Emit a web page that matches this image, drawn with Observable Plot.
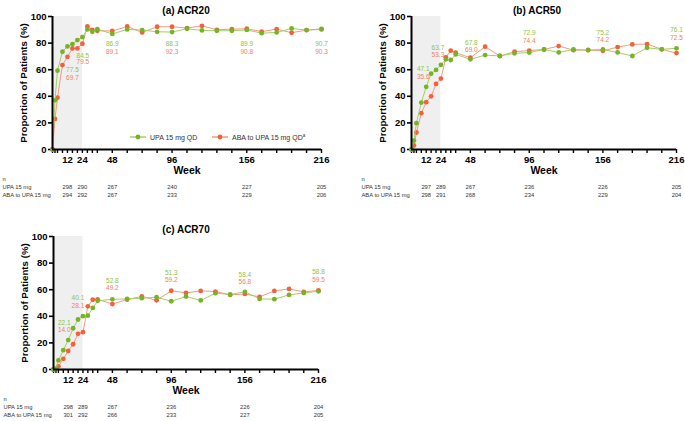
<!DOCTYPE html>
<html><head><meta charset="utf-8">
<script src="https://cdn.jsdelivr.net/npm/d3@7"></script>
<script src="https://cdn.jsdelivr.net/npm/@observablehq/plot@0.6"></script>
<style>
body{margin:0;background:#fff;font-family:Arial,"Liberation Sans",sans-serif;}
#wrap{position:relative;width:685px;height:421px;overflow:hidden;background:#fff;}
.panel{position:absolute;}
.legend{position:absolute;font-size:7px;color:#333;display:flex;align-items:center;white-space:nowrap;}
</style></head><body><div id="wrap"></div>
<script>
// ---- data ----
const weeks = [0,2,4,8,12,16,20,24,28,32,36,48,60,72,84,96,108,120,132,144,156,168,180,192,204,216];
const tickLabelWeeks = [12,24,48,96,156,216];
const shadeWeeks = [0,24];
const yTicks = [0,20,40,60,80,100];
const seriesNames = ["UPA 15 mg QD","ABA to UPA 15 mg QD"];
const rowLabels = ["n","UPA 15 mg","ABA to UPA 15 mg"];
const titles = ["(a) ACR20","(b) ACR50","(c) ACR70"];

const acr20Upa = [0,37,59.3,73.5,77.5,79.3,82.3,84.5,90.3,88.5,90.5,86.9,90.3,89.8,88.5,88.3,90.8,89.5,89.3,89.3,89.9,87.5,88.0,91.0,89.8,90.7];
const acr20Aba = [0,23,39,63.5,69.7,76,76,79.5,92.5,90,89.3,89.1,92.5,88,92.3,92.3,91.3,93,90,90.5,90.8,88.7,90.5,87.8,89.8,90.3];
const acr50Upa = [0,6.7,19.8,35.3,47.1,57,59.8,63.7,67.8,67.3,71.5,67.8,71,70.3,72.3,72.9,75.2,73,75.2,74.8,75.2,73,70.3,76.5,75.3,76.1];
const acr50Aba = [0,3,12.8,27.3,35.6,40,49.3,53.3,69.3,74.3,72.8,69.0,77.3,70.3,73.5,74.4,75.2,77.8,74.7,74.7,74.2,77,79,79.3,75.3,72.5];
const acr70Upa = [0,0.7,6.8,14.5,22.1,31,37.6,40.1,40.5,46.3,51.6,52.8,53,53.6,54.4,51.3,54.9,51.9,57.4,56.4,58.4,53.1,52.9,56.1,57.6,58.8];
const acr70Aba = [0,0.3,2.4,8,14.0,19,26.8,28.1,47.5,52.5,52.8,49.2,52.6,54.9,52,59.2,57.6,59.1,58.6,56.1,56.8,54.6,59.1,60.6,58.3,59.5];

const nWeeks = [12,24,48,96,156,216];
const acr20nUpa = [298,290,267,240,227,205];
const acr20nAba = [294,292,267,233,229,206];
const acr50nUpa = [297,289,267,236,226,205];
const acr50nAba = [298,291,268,234,229,204];
const acr70nUpa = [298,289,267,236,226,204];
const acr70nAba = [301,292,266,233,227,205];

// ---- style ----
const GREEN = "#74b425", GREEN_LINE = "#a3d064", GREEN_TXT = "#8cc443";
const ORANGE = "#f2603c", ORANGE_LINE = "#f59a82", ORANGE_TXT = "#f08063";
const FONT = "Arial, 'Liberation Sans', sans-serif";

function panel(cfg) {
  const {title, upa, aba, nUpa, nAba, width, marginLeft, marginRight, labelG, labelO, labelDx, titleDx, titleDy} = cfg;
  const H = 202, MT = 16, MB = 53;
  const rows = (arr) => weeks.map((w, i) => ({week: w, value: arr[i]}));
  const dU = rows(upa), dA = rows(aba);
  const labelMarks = [];
  tickLabelWeeks.forEach((w, i) => {
    const k = weeks.indexOf(w);
    labelMarks.push(Plot.text([{week: w, y: labelG[i], v: upa[k]}], {x: "week", y: "y", text: d => d.v.toFixed(1), dx: labelDx[i], fill: GREEN_TXT, fontSize: 6.5, fontWeight: "normal"}));
    labelMarks.push(Plot.text([{week: w, y: labelO[i], v: aba[k]}], {x: "week", y: "y", text: d => d.v.toFixed(1), dx: labelDx[i], fill: ORANGE_TXT, fontSize: 6.5, fontWeight: "normal"}));
  });
  const nU = nWeeks.map((w, i) => ({week: w, n: nUpa[i]}));
  const nA = nWeeks.map((w, i) => ({week: w, n: nAba[i]}));
  return Plot.plot({
    width, height: H, marginTop: MT, marginBottom: MB, marginLeft, marginRight,
    x: {domain: [0, 216]},
    y: {domain: [0, 100]},
    style: {fontFamily: FONT, fontSize: "9.5px", fontWeight: "bold", color: "#000", background: "transparent", overflow: "visible"},
    marks: [
      Plot.rectY([shadeWeeks], {x1: d => d[0], x2: d => d[1], y1: 0, y2: 100, fill: "#efefef"}),
      Plot.axisY({ticks: yTicks, tickSize: 4, tickPadding: 2, strokeWidth: 1.6, label: null, fontSize: 9.5}),
      Plot.axisX({ticks: weeks, tickSize: 4, tickPadding: 3, strokeWidth: 1.4, label: null, tickFormat: d => tickLabelWeeks.includes(d) ? String(d) : "", fontSize: 9.5}),
      Plot.line(dA, {x: "week", y: "value", stroke: ORANGE_LINE, strokeWidth: 1}),
      Plot.dot(dA, {x: "week", y: "value", fill: ORANGE, r: 2.4}),
      Plot.line(dU, {x: "week", y: "value", stroke: GREEN_LINE, strokeWidth: 1}),
      Plot.dot(dU, {x: "week", y: "value", fill: GREEN, r: 2.4}),
      Plot.ruleY([0], {stroke: "#000", strokeWidth: 2}),
      Plot.ruleX([0], {stroke: "#000", strokeWidth: 2}),
      ...labelMarks,
      Plot.text([title], {text: d => d, frameAnchor: "top", dy: titleDy, dx: titleDx, fontSize: 10, fontWeight: "bold"}),
      Plot.text(["Proportion of Patients (%)"], {text: d => d, frameAnchor: "left", textAnchor: "middle", dx: -29, rotate: -90, fontSize: 9.7, fontWeight: "bold"}),
      Plot.text(["Week"], {text: d => d, frameAnchor: "bottom", dy: 24, fontSize: 10.5, fontWeight: "bold"}),
      Plot.text([rowLabels[0]], {text: d => d, frameAnchor: "bottom-left", dx: -50, dy: 31, textAnchor: "start", fontSize: 5.8, fontWeight: "normal", fill: "#333"}),
      Plot.text([rowLabels[1]], {text: d => d, frameAnchor: "bottom-left", dx: -50, dy: 39, textAnchor: "start", fontSize: 5.8, fontWeight: "normal", fill: "#333"}),
      Plot.text([rowLabels[2]], {text: d => d, frameAnchor: "bottom-left", dx: -50, dy: 47, textAnchor: "start", fontSize: 5.8, fontWeight: "normal", fill: "#333"}),
      Plot.text(nU, {x: "week", text: "n", frameAnchor: "bottom", dy: 39, fontSize: 5.8, fontWeight: "normal", fill: "#333"}),
      Plot.text(nA, {x: "week", text: "n", frameAnchor: "bottom", dy: 47, fontSize: 5.8, fontWeight: "normal", fill: "#333"})
    ]
  });
}

const wrap = document.getElementById("wrap");
function place(node, left, top) {
  const d = document.createElement("div");
  d.className = "panel"; d.style.left = left + "px"; d.style.top = top + "px";
  d.appendChild(node); wrap.appendChild(d);
}

place(panel({title: titles[0], upa: acr20Upa, aba: acr20Aba, nUpa: acr20nUpa, nAba: acr20nAba,
  width: 340, marginLeft: 52, marginRight: 19,
  labelG: [60, 70, 79.3, 79.3, 79.3, 79.3], labelO: [54.2, 65.5, 73.7, 73.7, 73.7, 73.7],
  labelDx: [5, 0.5, 0, 0, 0, 0], titleDx: -1, titleDy: -10}), 0, 0);

place(panel({title: titles[1], upa: acr50Upa, aba: acr50Aba, nUpa: acr50nUpa, nAba: acr50nAba,
  width: 345, marginLeft: 71, marginRight: 9,
  labelG: [60.3, 76.7, 80.3, 87.3, 87.8, 90], labelO: [54.5, 71, 74.8, 81.5, 82.3, 84.2],
  labelDx: [-3, -3, 1, 0, 0, 0], titleDx: -7, titleDy: -10}), 340, 0);

place(panel({title: titles[2], upa: acr70Upa, aba: acr70Aba, nUpa: acr70nUpa, nAba: acr70nAba,
  width: 340, marginLeft: 53, marginRight: 22,
  labelG: [35.3, 53.6, 66.7, 73, 71.4, 73.2], labelO: [30, 47.6, 61.4, 67, 65.6, 67.4],
  labelDx: [-4, -5, 0, 0, 0, 0], titleDx: 0, titleDy: -11}), 0, 220);

// legend (panel a)
function legendItem(color, lineColor, label, left, sup) {
  const d = document.createElement("div");
  d.className = "legend";
  d.style.left = left + "px"; d.style.top = "132px"; d.style.height = "10px";
  d.innerHTML = `<svg width="16" height="10" style="margin-right:4px"><line x1="0" x2="16" y1="5" y2="5" stroke="${lineColor}" stroke-width="1.5"/><circle cx="8" cy="5" r="2.4" fill="${color}"/></svg><span>${label}${sup ? '<sup style="font-size:4.5px">a</sup>' : ''}</span>`;
  wrap.appendChild(d);
}
legendItem(GREEN, GREEN_LINE, seriesNames[0], 130, false);
legendItem(ORANGE, ORANGE_LINE, seriesNames[1], 212, true);
</script>
</body></html>
